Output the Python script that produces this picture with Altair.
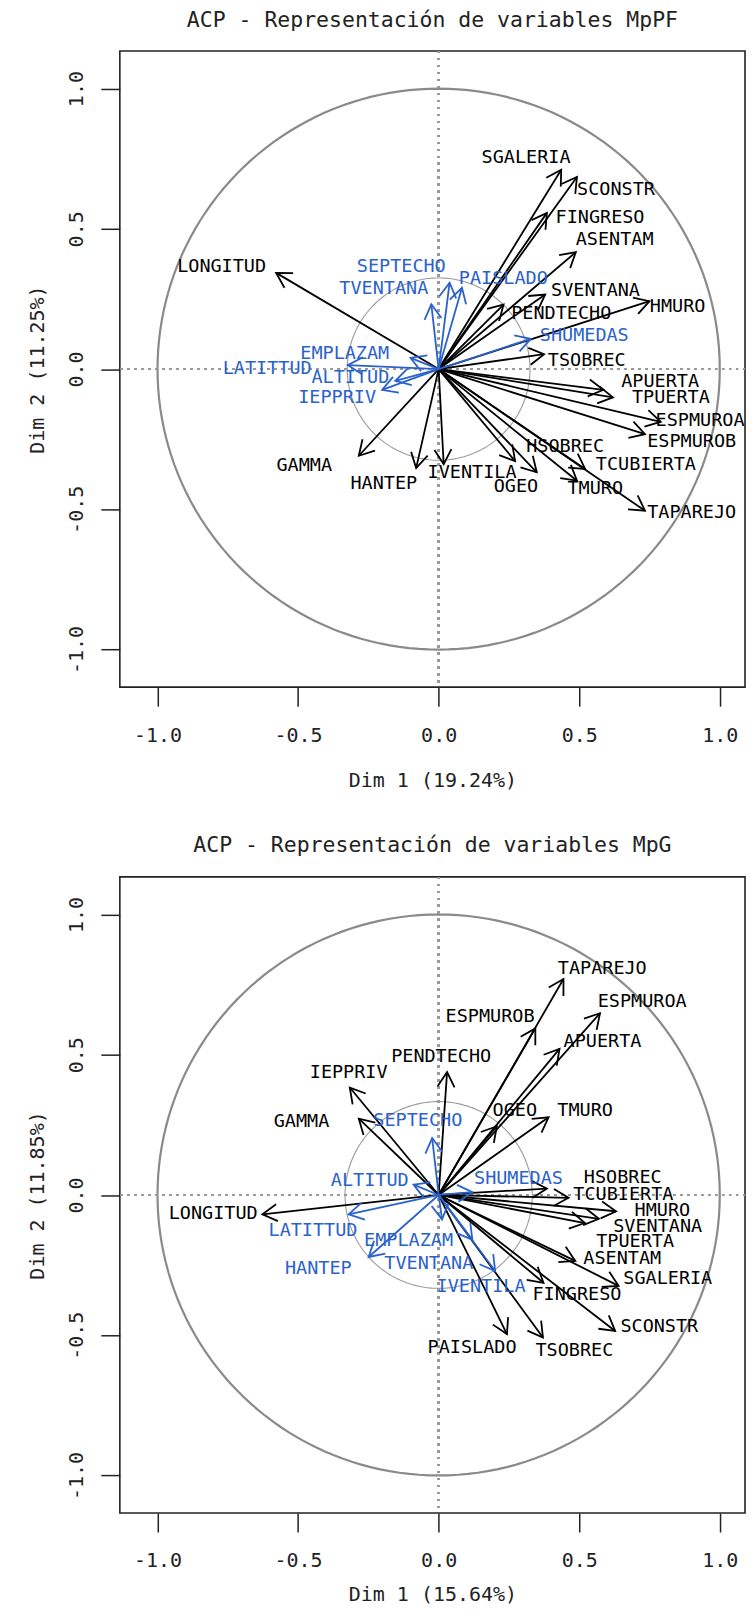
import altair as alt
import pandas as pd

# ---------------- Panel 1 : MpPF ----------------
p1_vars = ["LONGITUD", "SGALERIA", "SCONSTR", "FINGRESO", "ASENTAM", "SVENTANA",
           "PENDTECHO", "HMURO", "TSOBREC", "APUERTA", "TPUERTA", "ESPMUROA",
           "ESPMUROB", "HSOBREC", "TCUBIERTA", "OGEO", "TMURO", "TAPAREJO",
           "IVENTILA", "HANTEP", "GAMMA",
           "SEPTECHO", "TVENTANA", "PAISLADO", "SHUMEDAS", "EMPLAZAM", "LATITTUD",
           "ALTITUD", "IEPPRIV"]
p1_x = [-0.578, 0.436, 0.492, 0.385, 0.488, 0.379, 0.231, 0.750, 0.375, 0.586, 0.620,
        0.790, 0.734, 0.272, 0.521, 0.349, 0.492, 0.734, 0.018, -0.080, -0.284,
        0.039, -0.026, 0.083, 0.328, -0.100, -0.323, -0.154, -0.201]
p1_y = [0.343, 0.711, 0.685, 0.557, 0.417, 0.266, 0.230, 0.242, 0.053, -0.074, -0.101,
        -0.188, -0.232, -0.328, -0.356, -0.368, -0.398, -0.505, -0.339, -0.353, -0.309,
        0.308, 0.231, 0.290, 0.108, 0.040, 0.014, -0.042, -0.074]
p1_lx = [-0.772, 0.311, 0.631, 0.574, 0.626, 0.558, 0.436, 0.850, 0.527, 0.788, 0.826,
         0.930, 0.900, 0.450, 0.737, 0.275, 0.557, 0.900, 0.119, -0.195, -0.478,
         -0.133, -0.195, 0.230, 0.518, -0.334, -0.610, -0.314, -0.361]
p1_ly = [0.367, 0.756, 0.642, 0.542, 0.464, 0.281, 0.199, 0.224, 0.031, -0.042, -0.098,
         -0.181, -0.256, -0.274, -0.339, -0.416, -0.425, -0.508, -0.368, -0.407, -0.341,
         0.369, 0.290, 0.326, 0.120, 0.059, 0.005, -0.030, -0.099]
p1_grp = ["act"] * 21 + ["sup"] * 8

# ---------------- Panel 2 : MpG ----------------
p2_vars = ["TAPAREJO", "ESPMUROA", "ESPMUROB", "APUERTA", "PENDTECHO", "OGEO", "TMURO",
           "IEPPRIV", "GAMMA", "LONGITUD", "HSOBREC", "TCUBIERTA", "HMURO", "SVENTANA",
           "TPUERTA", "ASENTAM", "SGALERIA", "FINGRESO", "SCONSTR", "TSOBREC", "PAISLADO",
           "SEPTECHO", "ALTITUD", "SHUMEDAS", "LATITTUD", "EMPLAZAM", "HANTEP",
           "TVENTANA", "IVENTILA"]
p2_x = [0.444, 0.574, 0.344, 0.430, 0.030, 0.207, 0.391, -0.316, -0.284, -0.627, 0.385,
        0.462, 0.631, 0.570, 0.520, 0.486, 0.640, 0.373, 0.628, 0.371, 0.243,
        -0.023, -0.089, 0.120, -0.320, 0.120, -0.249, 0.012, 0.201]
p2_y = [0.770, 0.648, 0.594, 0.521, 0.438, 0.245, 0.277, 0.383, 0.272, -0.069, 0.023,
        -0.010, -0.058, -0.085, -0.100, -0.235, -0.324, -0.313, -0.485, -0.508, -0.496,
        0.203, 0.037, 0.010, -0.069, -0.160, -0.221, -0.087, -0.271]
p2_lx = [0.582, 0.724, 0.183, 0.583, 0.009, 0.271, 0.521, -0.320, -0.488, -0.802, 0.655,
         0.657, 0.796, 0.779, 0.699, 0.653, 0.815, 0.492, 0.785, 0.483, 0.119,
         -0.074, -0.245, 0.284, -0.447, -0.107, -0.428, -0.035, 0.151]
p2_ly = [0.810, 0.692, 0.639, 0.550, 0.494, 0.304, 0.304, 0.438, 0.265, -0.064, 0.063,
         0.004, -0.055, -0.111, -0.164, -0.226, -0.297, -0.354, -0.467, -0.553, -0.541,
         0.269, 0.052, 0.061, -0.126, -0.162, -0.261, -0.242, -0.324]
p2_grp = ["act"] * 21 + ["sup"] * 8

titles = ["ACP - Representación de variables MpPF", "ACP - Representación de variables MpG"]
xtitles = ["Dim 1 (19.24%)", "Dim 1 (15.64%)"]
ytitles = ["Dim 2 (11.25%)", "Dim 2 (11.85%)"]
inner_r = [0.325, 0.333]
ticks = [-1.0, -0.5, 0.0, 0.5, 1.0]

MONO = "DejaVu Sans Mono"
BLUE = "#2a62cc"
XDOM = [-1.134, 1.0898]
YDOM = [-1.134, 1.134]
HEAD = "M -0.5 0.866 L 0 0 L 0.5 0.866"
LABEL_EXPR = "(datum.value < 0 ? '-' : '') + format(abs(datum.value), '.1f')"


def panel(vars_, xs, ys, lxs, lys, grps, title, xt, yt, r_in, xtitle_pad):
    df = pd.DataFrame({"var": vars_, "x": xs, "y": ys, "lx": lxs, "ly": lys,
                       "grp": grps, "x0": 0.0, "y0": 0.0})
    xax = alt.Axis(values=ticks, labelExpr=LABEL_EXPR, grid=False, domain=False,
                   tickSize=19, tickWidth=1.5, tickColor="#222", labelFont=MONO,
                   labelFontSize=20, labelColor="#222", labelPadding=19,
                   title=xt, titleFont=MONO, titleFontSize=20, titleFontWeight="normal",
                   titleColor="#222", titlePadding=xtitle_pad)
    yax = alt.Axis(values=ticks, labelExpr=LABEL_EXPR, grid=False, domain=False,
                   tickSize=19, tickWidth=1.5, tickColor="#222", labelFont=MONO,
                   labelFontSize=20, labelColor="#222", labelPadding=14,
                   labelAngle=270, labelAlign="center", labelBaseline="bottom",
                   title=yt, titleFont=MONO, titleFontSize=20, titleFontWeight="normal",
                   titleColor="#222", titlePadding=19)
    xs_ = alt.Scale(domain=XDOM, nice=False, zero=False)
    ys_ = alt.Scale(domain=YDOM, nice=False, zero=False)
    col = alt.Color("grp:N", scale=alt.Scale(domain=["act", "sup"], range=["#000000", BLUE]),
                    legend=None)

    def circle(r, color, w):
        return alt.Chart(alt.sequence(0, 362, 2, as_="t")).transform_calculate(
            cx=f"{r}*cos(datum.t*PI/180)", cy=f"{r}*sin(datum.t*PI/180)"
        ).mark_line(color=color, strokeWidth=w).encode(
            x=alt.X("cx:Q", scale=xs_, axis=xax),
            y=alt.Y("cy:Q", scale=ys_, axis=yax),
            order="t:Q")

    big = circle(1.0, "#8a8a8a", 2.2)
    small = circle(r_in, "#9a9a9a", 1.1)
    base = alt.Chart(df)
    hr = base.mark_rule(color="#999", strokeWidth=2, strokeDash=[2, 5]).encode(y=alt.datum(0))
    vr = base.mark_rule(color="#999", strokeWidth=2, strokeDash=[2, 5]).encode(x=alt.datum(0))
    shafts = base.mark_rule(strokeWidth=1.8).encode(
        x="x0:Q", y="y0:Q", x2="x:Q", y2="y:Q", color=col)
    heads = base.transform_calculate(
        ang="(atan2(datum.x, datum.y) * 180 / PI + 360) % 360"
    ).mark_point(shape=HEAD, filled=False, size=1156, strokeWidth=1.8, opacity=1).encode(
        x="x:Q", y="y:Q", angle=alt.Angle("ang:Q", scale=None), color=col)
    labels = base.mark_text(font=MONO, fontSize=18.5, align="center", baseline="middle").encode(
        x="lx:Q", y="ly:Q", text="var:N", color=col)
    return alt.layer(big, small, hr, vr, shafts, heads, labels).properties(
        width=626, height=637,
        title=alt.TitleParams(title, font=MONO, fontSize=21.5, fontWeight="normal",
                              color="#222", frame="group", anchor="middle", offset=19))


c1 = panel(p1_vars, p1_x, p1_y, p1_lx, p1_ly, p1_grp, titles[0], xtitles[0], ytitles[0],
           inner_r[0], 25)
c2 = panel(p2_vars, p2_x, p2_y, p2_lx, p2_ly, p2_grp, titles[1], xtitles[1], ytitles[1],
           inner_r[1], 14)

chart = alt.vconcat(c1, c2, spacing=43).properties(
    padding={"left": 19, "top": -1, "right": 0, "bottom": 0}
).configure_view(stroke="#222", strokeWidth=1.6)

chart.save("out.html", embed_options={"renderer": "svg", "actions": False})
